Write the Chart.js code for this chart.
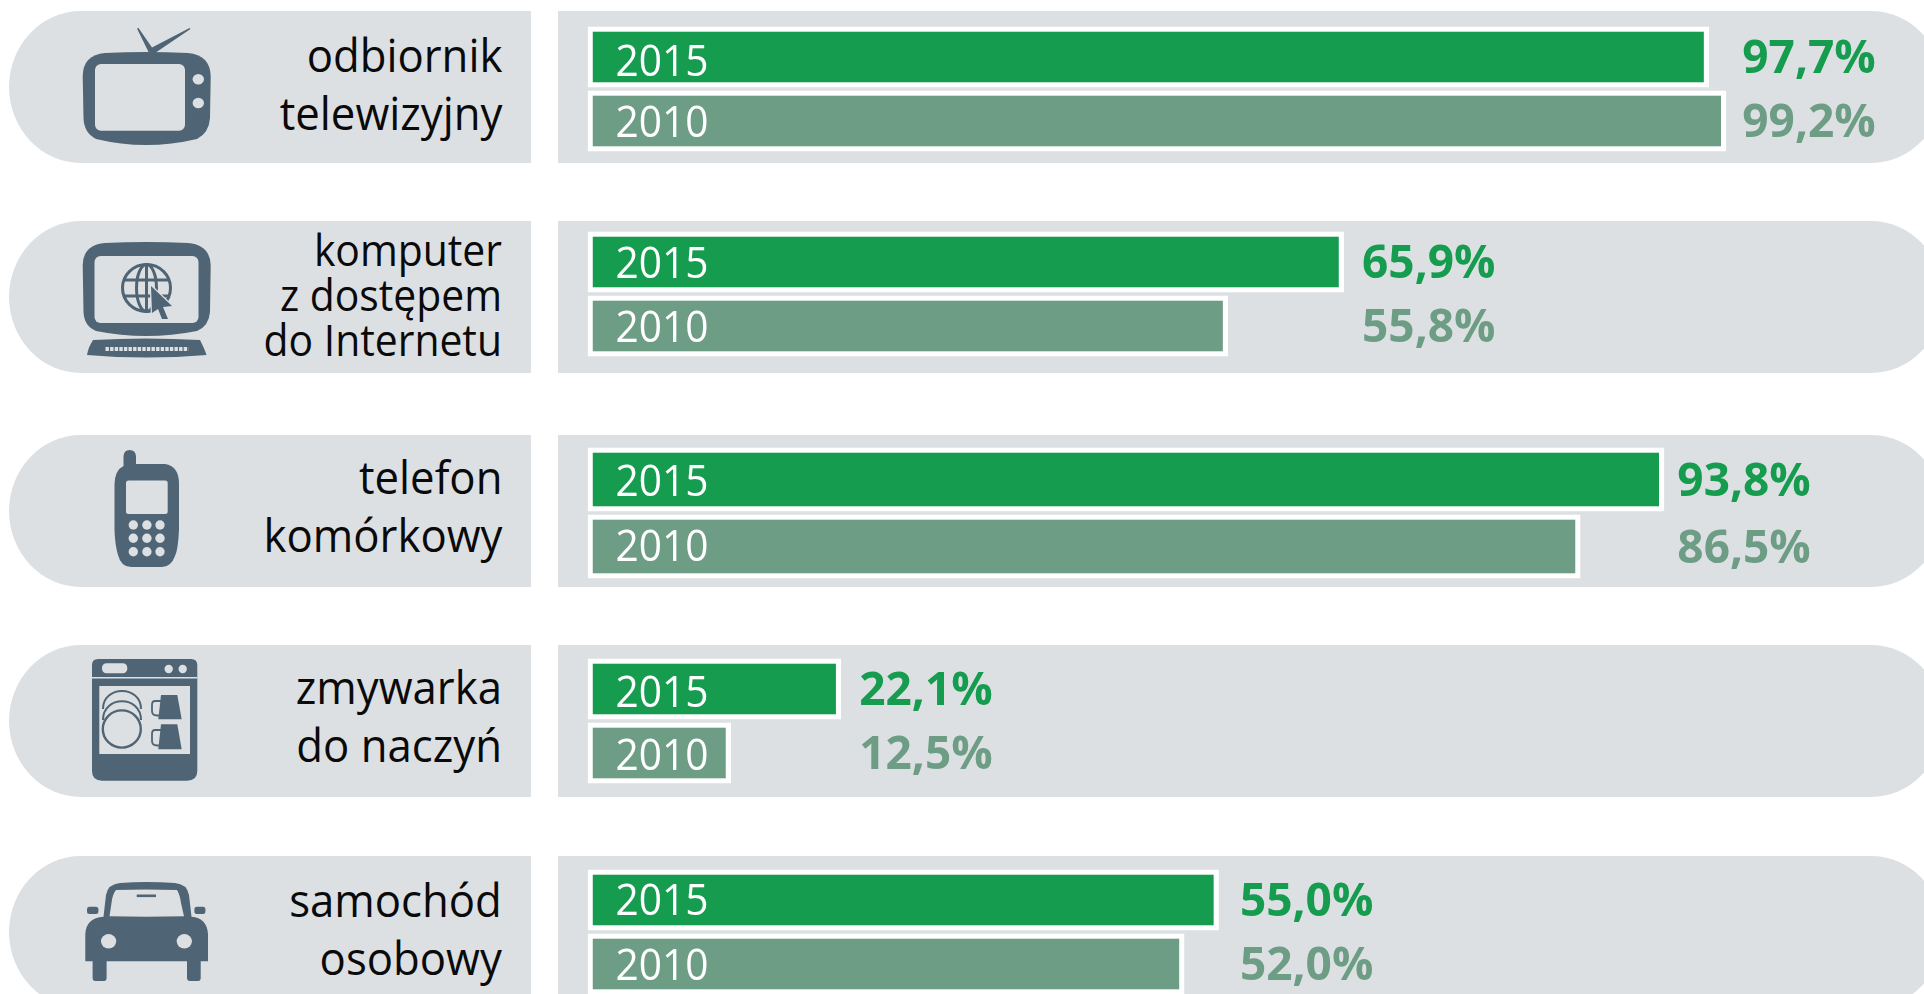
<!DOCTYPE html>
<html lang="pl">
<head>
<meta charset="utf-8">
<title>Wyposażenie gospodarstw domowych</title>
<script src="https://cdn.jsdelivr.net/npm/chart.js@4"></script>
<style>
  html, body { margin: 0; padding: 0; width: 1924px; height: 994px; overflow: hidden; background: #fff; }
  body { position: relative; font-family: "Open Sans", sans-serif; }
  .band { position: absolute; height: 152px; background: #dde0e3; }
  .band.left { left: 9px; width: 522px; border-radius: 72px 0 0 72px / 76px 0 0 76px; }
  .band.right { left: 558px; width: 1385px; border-radius: 0 72px 72px 0 / 0 76px 76px 0; }
  .name { position: absolute; right: 1422px; text-align: right; color: #0a0a0a; white-space: nowrap; transform: scaleX(0.95); transform-origin: right center; }
  canvas { position: absolute; left: 0; }
  svg { position: absolute; left: 0; top: 0; }
</style>
</head>
<body>
<script>
// data
const categories = [
  ['odbiornik', 'telewizyjny'],
  ['komputer', 'z dostępem', 'do Internetu'],
  ['telefon', 'komórkowy'],
  ['zmywarka', 'do naczyń'],
  ['samochód', 'osobowy']
];
const seriesLabels = ['2015', '2010'];
const values2015 = [97.7, 65.9, 93.8, 22.1, 55.0];
const values2010 = [99.2, 55.8, 86.5, 12.5, 52.0];

// layout of the rows
const bandTops = [11, 221, 435, 645, 856];
const chartTops = [25, 230, 446, 657, 868];
const chartHeights = [128, 128, 134, 128, 128];
const nameTops = [25, 227, 447, 657, 870];
const nameSizes = [46, 43, 46, 46, 46];
const nameLineHeights = [58, 45, 58, 58, 58];
const valueGaps = [16, 18, 13, 18, 21];
const yearDrops = [[19, 16], [16, 16], [16, 14], [18, 17], [15, 16]];
const colors = ['#159c4f', '#6d9d85'];

const rowText = {
  id: 'rowText',
  afterDatasetsDraw(chart, args, opts) {
    const ctx = chart.ctx;
    const meta = chart.getDatasetMeta(0);
    const x = chart.scales.x;
    const values = chart.data.datasets[0].data;
    const valueX = x.getPixelForValue(Math.max(...values)) + opts.gap;
    ctx.save();
    meta.data.forEach((bar, i) => {
      ctx.textAlign = 'left';
      ctx.textBaseline = 'alphabetic';
      ctx.fillStyle = '#fff';
      ctx.font = '43px "Open Sans"';
      ctx.fillText(chart.data.labels[i], x.getPixelForValue(0) + 28, bar.y + opts.yearDrop[i], 93);
      ctx.fillStyle = colors[i];
      ctx.font = 'bold 46px "Open Sans"';
      ctx.fillText(values[i].toFixed(1).replace('.', ',') + '%', valueX, bar.y + 16);
    });
    ctx.restore();
  }
};

categories.forEach((lines, row) => {
  ['left', 'right'].forEach(side => {
    const band = document.createElement('div');
    band.className = 'band ' + side;
    band.style.top = bandTops[row] + 'px';
    document.body.appendChild(band);
  });

  const name = document.createElement('div');
  name.className = 'name';
  name.style.top = nameTops[row] + 'px';
  name.style.fontSize = nameSizes[row] + 'px';
  name.style.lineHeight = nameLineHeights[row] + 'px';
  name.innerHTML = lines.join('<br>');
  document.body.appendChild(name);

  const canvas = document.createElement('canvas');
  canvas.width = 1924;
  canvas.height = chartHeights[row];
  canvas.style.top = chartTops[row] + 'px';
  document.body.appendChild(canvas);

  new Chart(canvas.getContext('2d'), {
    type: 'bar',
    data: {
      labels: seriesLabels,
      datasets: [{
        data: [values2015[row], values2010[row]],
        backgroundColor: colors,
        borderColor: '#fff',
        borderWidth: 5.3,
        borderSkipped: false,
        categoryPercentage: 1,
        barPercentage: 0.953
      }]
    },
    options: {
      indexAxis: 'y',
      responsive: false,
      animation: false,
      layout: { padding: { left: 587.5, right: 188.5, top: 0, bottom: 0 } },
      scales: {
        x: { display: false, min: 0, max: 100 },
        y: { display: false }
      },
      plugins: {
        legend: { display: false },
        tooltip: { enabled: false },
        rowText: { gap: valueGaps[row], yearDrop: yearDrops[row] }
      }
    },
    plugins: [rowText]
  });
});
</script>

<!-- icons -->
<svg width="1924" height="994" viewBox="0 0 1924 994" fill="#4f6474">
  <!-- tv -->
  <path d="M148.5 52 L137 28.5 L138.5 28 L152 47.5 L189.5 28 L190.5 29 L155 53 Z"/>
  <path d="M105 53 Q146 51 188 53 Q210 55 210.7 76 L210 118 Q209 133 197 139 Q146 151 96 139 Q84 133 83.5 118 L82.7 76 Q83 55 105 53 Z"/>
  <rect x="95" y="64" width="90" height="66.7" rx="6" fill="#dde0e3"/>
  <ellipse cx="198.3" cy="79.3" rx="5.7" ry="5.3" fill="#dde0e3"/>
  <ellipse cx="198.3" cy="103" rx="5.7" ry="5.3" fill="#dde0e3"/>

  <!-- computer -->
  <path d="M105 243 Q146 241 188 243 Q210 245 210.7 265 L210 312 Q209 326 197 331 Q146 341 96 331 Q84 326 83.5 312 L82.7 265 Q83 245 105 243 Z"/>
  <rect x="94.5" y="256" width="104" height="67" rx="6" fill="#dde0e3"/>
  <path d="M93 340 Q146 337 200 340 Q205 350 206.5 355 Q146 360 87 355 Q88 348 93 340 Z"/>
  <line x1="105.5" y1="349" x2="188.5" y2="349" stroke="#dde0e3" stroke-width="4" stroke-dasharray="3.4 1.2"/>
  <g fill="none" stroke="#4f6474" stroke-width="3">
    <ellipse cx="146.5" cy="288" rx="24" ry="23.5"/>
    <ellipse cx="146.5" cy="288" rx="10" ry="23.5"/>
    <line x1="146.5" y1="265" x2="146.5" y2="311"/>
    <line x1="124" y1="280" x2="169" y2="280"/>
    <line x1="124" y1="296" x2="169" y2="296"/>
  </g>
  <path d="M151 286 L172 306 L163 307 L168 319 L162 319 L158 309 L152 313 Z" fill="#4f6474" stroke="#dde0e3" stroke-width="2.5" paint-order="stroke"/>

  <!-- phone -->
  <path d="M123.5 466 L123.5 456 Q124 450 129.5 450 Q135.5 450 136 456 L136 464 L165 464 Q179 466 179 484 L179 530 Q178 550 175 556 Q171 567 162 567 L131 567 Q121 567 118 555 Q115 545 114.5 530 L114.5 484 Q115 470 123.5 466 Z"/>
  <rect x="126" y="480.5" width="41.7" height="33.5" rx="2.5" fill="#dde0e3"/>
  <g fill="#dde0e3">
    <circle cx="133.3" cy="525" r="4.7"/><circle cx="146.9" cy="525" r="4.7"/><circle cx="160" cy="525" r="4.7"/>
    <circle cx="133.3" cy="538.3" r="4.7"/><circle cx="146.9" cy="538.3" r="4.7"/><circle cx="160" cy="538.3" r="4.7"/>
    <circle cx="133.3" cy="551.7" r="4.7"/><circle cx="146.9" cy="551.7" r="4.7"/><circle cx="160" cy="551.7" r="4.7"/>
  </g>

  <!-- dishwasher -->
  <path d="M98 659 L191 659 Q197.3 659 197.3 665 L197.3 771 Q197.3 780.7 187 780.7 L102 780.7 Q92 780.7 92 771 L92 665 Q92 659 98 659 Z"/>
  <rect x="92" y="677" width="105.3" height="1.5" fill="#dde0e3"/>
  <rect x="102" y="663.3" width="25.3" height="10" rx="4.5" fill="#dde0e3"/>
  <circle cx="168.7" cy="669" r="4.2" fill="#dde0e3"/>
  <circle cx="182.7" cy="669" r="4.2" fill="#dde0e3"/>
  <rect x="99.3" y="686" width="90.7" height="68" fill="#dde0e3"/>
  <g fill="none" stroke="#4f6474">
    <path d="M103 709 C103 685 141 685 141 709" stroke-width="2"/>
    <path d="M103 720 C103 695 141 695 141 720" stroke-width="2"/>
    <ellipse cx="121.8" cy="729" rx="19" ry="18.6" stroke-width="2.4"/>
    <path d="M161 701 L155 701 Q152 701 152 705 L152 711 Q152 715.5 157 715.5 L160 715.5" stroke-width="1.8"/>
    <path d="M161 730 L155 730 Q152 730 152 734 L152 741 Q152 745.5 157 745.5 L160 745.5" stroke-width="1.8"/>
  </g>
  <path d="M161 695 L177.3 695 L181.7 719.3 L158.3 719.3 Z"/>
  <path d="M161 724.3 L177.3 724.3 L181.7 749.3 L158.3 749.3 Z"/>

  <!-- car -->
  <path d="M103.5 916.7 L106 895 Q108 884 120 883 Q146 881 175 883 Q187 884 189 895 L191.5 916.7 Q207 918 208 934 L208 961.3 L200.7 961.3 L200.7 978 Q200.7 981 198 981 L190 981 Q187 981 187 978 L187 961.3 L106.6 961.3 L106.6 978 Q106.6 981 104 981 L95.5 981 Q92.6 981 92.6 978 L92.6 961.3 L85.3 961.3 L85.3 934 Q86 918 103.5 916.7 Z"/>
  <path d="M116 890 Q146 889 177 890 Q180 895 181 903 L184 916.3 Q146 917 109.5 916.3 L111.5 903 Q112.5 894 116 890 Z" fill="#dde0e3"/>
  <rect x="87" y="906.7" width="11.4" height="7.3" rx="2.5"/>
  <rect x="194.4" y="906.7" width="11" height="7.3" rx="2.5"/>
  <rect x="136.7" y="894.5" width="19.3" height="2.6"/>
  <ellipse cx="108.6" cy="941.3" rx="7.6" ry="7.2" fill="#dde0e3"/>
  <ellipse cx="184.3" cy="941.3" rx="7.6" ry="7.2" fill="#dde0e3"/>
</svg>
</body>
</html>
